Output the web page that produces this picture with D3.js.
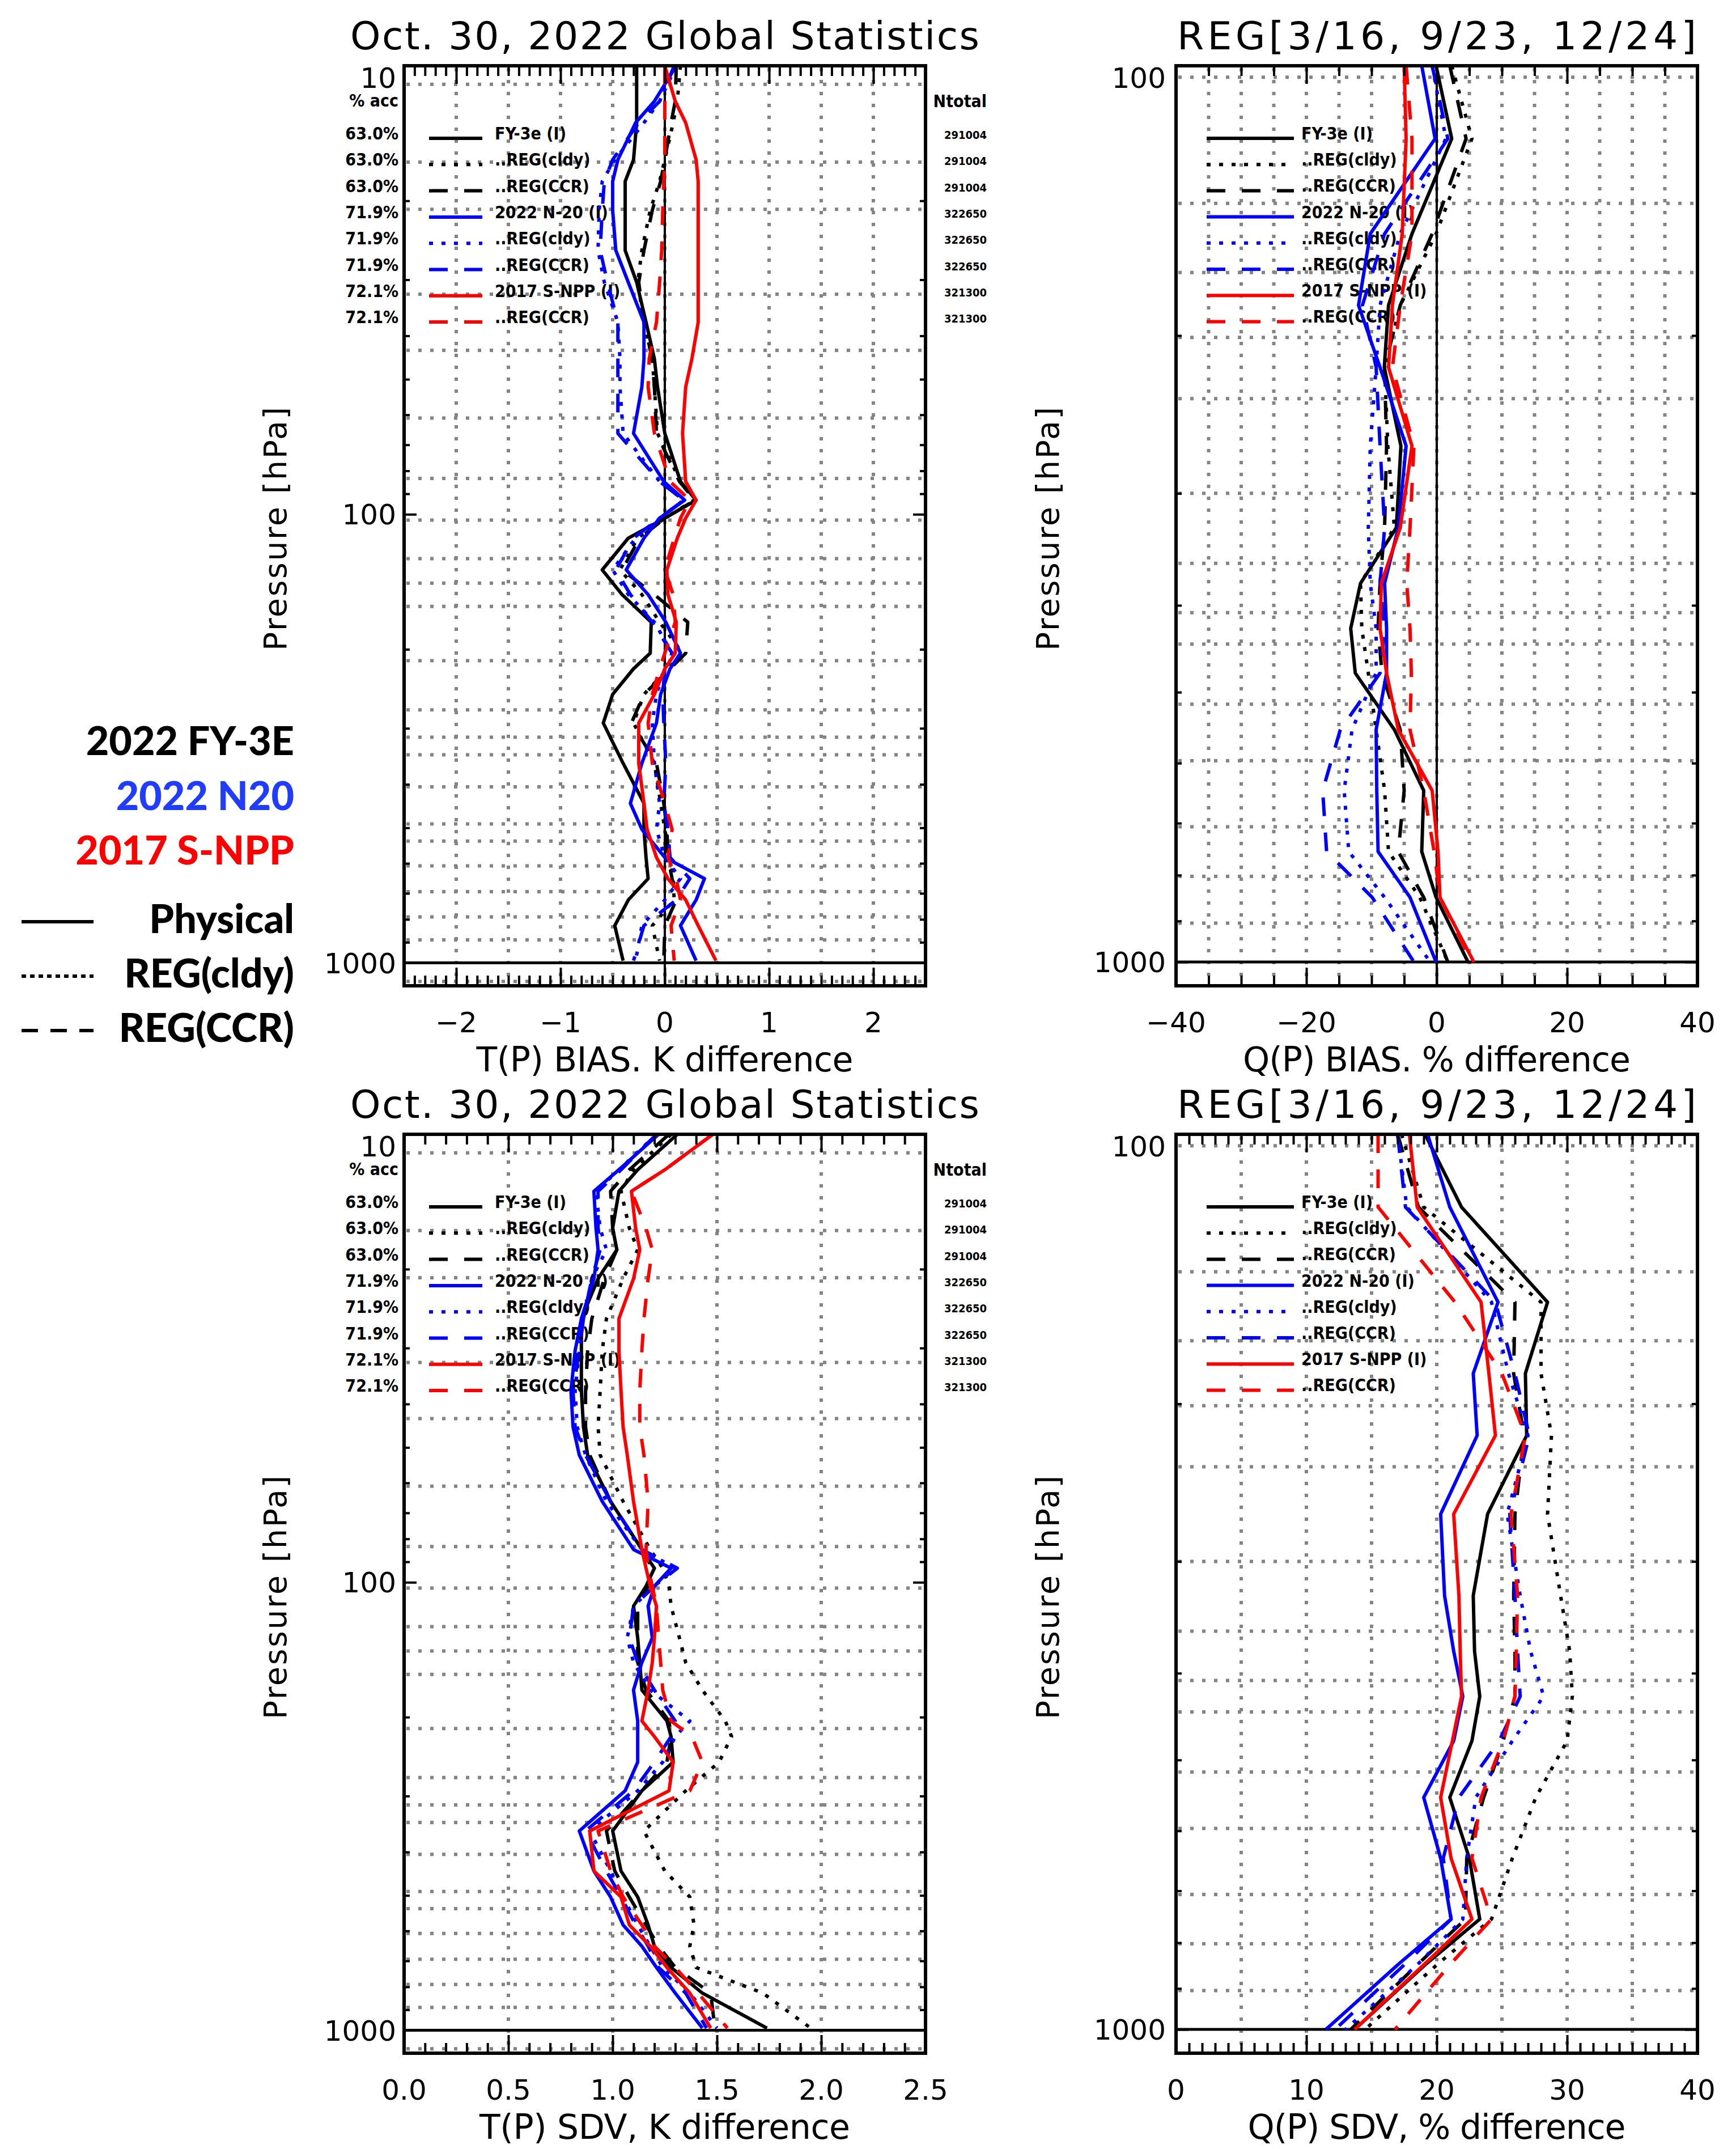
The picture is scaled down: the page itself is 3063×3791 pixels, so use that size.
<!DOCTYPE html>
<html>
<head>
<meta charset="utf-8">
<script src="https://cdn.jsdelivr.net/npm/d3@7"></script>
<style>
  body { margin: 0; background: #fff; }
  svg text { font-family: "DejaVu Sans", sans-serif; fill: #000; }
</style>
</head>
<body>
<svg id="chart" width="3063" height="3791"></svg>
<script>
// ---- data ----
var seriesLabels = ["FY-3e (I)", "..REG(cldy)", "..REG(CCR)", "2022 N-20 (I)", "..REG(cldy)", "..REG(CCR)", "2017 S-NPP (I)", "..REG(CCR)"];
var accLabels = ["63.0%", "63.0%", "63.0%", "71.9%", "71.9%", "71.9%", "72.1%", "72.1%"];
var nTotal = ["291004", "291004", "291004", "322650", "322650", "322650", "321300", "321300"];

// temperature layers (hPa) and dotted grid levels
var tLevels = [10, 12, 13.4, 16.2, 18.1, 21, 25.8, 30.4, 37.3, 45, 52, 66, 84.5, 93, 102, 113, 133, 151, 174, 204, 221, 252, 292, 359, 441, 504, 582, 649, 724, 826, 989];
var tGrid = [11.0, 16.4, 20.9, 32.3, 43.1, 61.0, 83.2, 103.0, 125.6, 142.4, 160.5, 212, 272.9, 314.1, 343.6, 405, 490, 535.2, 608, 694, 790, 889, 1100];

// T(P) bias, K  (rows: FY-3E phys, cldy, CCR, N20 phys, cldy, CCR, S-NPP phys, CCR)
var tBias = [
  [-0.27, -0.27, -0.27, -0.3, -0.38, -0.38, -0.38, -0.27, -0.18, -0.1, -0.07, 0.0, 0.15, 0.3, 0.0, -0.35, -0.6, -0.41, -0.13, -0.14, -0.3, -0.5, -0.59, -0.4, -0.2, -0.2, -0.18, -0.16, -0.35, -0.48, -0.4],
  [0.15, 0.12, 0.08, 0.0, -0.05, -0.14, -0.22, -0.26, -0.2, -0.12, -0.1, -0.07, 0.15, 0.28, 0.0, -0.26, -0.43, -0.22, -0.05, 0.17, 0.03, -0.2, -0.3, -0.1, -0.04, 0.0, 0.05, 0.08, 0.09, -0.12, -0.05],
  [0.11, 0.1, 0.06, 0.0, -0.04, -0.12, -0.2, -0.25, -0.2, -0.12, -0.1, -0.08, 0.14, 0.29, 0.0, -0.24, -0.41, -0.1, 0.22, 0.2, 0.05, -0.2, -0.32, -0.08, -0.01, 0.02, 0.03, 0.07, 0.11, 0.0, -0.01],
  [0.11, -0.1, -0.28, -0.45, -0.5, -0.5, -0.47, -0.35, -0.2, -0.2, -0.22, -0.3, -0.01, 0.19, -0.05, -0.2, -0.37, -0.16, 0.01, 0.15, 0.05, -0.04, -0.08, -0.22, -0.33, -0.22, 0.0, 0.38, 0.3, 0.15, 0.3],
  [0.11, -0.05, -0.2, -0.48, -0.6, -0.63, -0.64, -0.58, -0.45, -0.43, -0.43, -0.4, -0.05, 0.18, -0.05, -0.28, -0.5, -0.35, -0.1, 0.07, 0.0, -0.08, -0.12, -0.1, -0.05, -0.08, 0.0, 0.15, 0.0, -0.22, -0.28],
  [0.09, -0.05, -0.25, -0.5, -0.58, -0.6, -0.62, -0.55, -0.45, -0.45, -0.45, -0.45, -0.05, 0.18, -0.05, -0.3, -0.47, -0.33, -0.12, 0.07, 0.0, -0.02, -0.01, 0.01, -0.01, 0.03, 0.05, 0.24, 0.11, -0.2, -0.3],
  [0.0, 0.1, 0.2, 0.3, 0.32, 0.32, 0.32, 0.32, 0.32, 0.26, 0.2, 0.17, 0.2, 0.3, 0.2, 0.12, 0.02, 0.03, 0.11, 0.1, 0.0, -0.1, -0.25, -0.25, -0.2, -0.17, -0.08, 0.03, 0.2, 0.32, 0.49],
  [0.0, 0.0, 0.0, 0.0, -0.01, -0.02, -0.03, -0.05, -0.08, -0.15, -0.16, -0.1, 0.05, 0.24, 0.15, 0.09, 0.0, 0.08, 0.1, 0.0, -0.05, -0.12, -0.16, -0.12, 0.0, 0.07, 0.03, 0.11, 0.15, 0.06, 0.09]
];

// T(P) SDV, K
var tSdv = [
  [1.31, 1.12, 1.03, 1.0, 1.02, 0.93, 0.85, 0.85, 0.85, 0.86, 0.88, 0.99, 1.14, 1.2, 1.16, 1.1, 1.12, 1.13, 1.14, 1.26, 1.28, 1.29, 1.14, 1.0, 1.04, 1.12, 1.17, 1.2, 1.28, 1.43, 1.74],
  [1.28, 1.1, 1.04, 1.08, 1.12, 1.05, 0.97, 0.95, 0.94, 0.93, 0.94, 1.05, 1.18, 1.24, 1.27, 1.28, 1.32, 1.35, 1.43, 1.54, 1.57, 1.51, 1.35, 1.15, 1.25, 1.37, 1.39, 1.37, 1.4, 1.72, 1.95],
  [1.27, 1.08, 0.99, 1.0, 1.02, 0.96, 0.9, 0.88, 0.87, 0.87, 0.89, 0.99, 1.14, 1.19, 1.17, 1.12, 1.12, 1.12, 1.16, 1.27, 1.28, 1.26, 1.14, 0.97, 1.01, 1.08, 1.16, 1.22, 1.3, 1.47, 1.49],
  [1.22, 1.03, 0.91, 0.92, 0.93, 0.91, 0.85, 0.82, 0.8, 0.81, 0.84, 0.95, 1.1, 1.28, 1.2, 1.17, 1.19, 1.14, 1.1, 1.12, 1.12, 1.12, 1.06, 0.84, 0.91, 0.99, 1.05, 1.14, 1.21, 1.3, 1.43],
  [1.21, 1.03, 0.92, 0.94, 0.97, 0.9, 0.86, 0.84, 0.82, 0.83, 0.87, 0.97, 1.14, 1.3, 1.2, 1.1, 1.07, 1.1, 1.18, 1.37, 1.3, 1.24, 1.12, 0.89, 0.99, 1.05, 1.12, 1.18, 1.24, 1.37, 1.5],
  [1.21, 1.04, 0.93, 0.93, 0.94, 0.9, 0.86, 0.84, 0.81, 0.82, 0.87, 0.99, 1.14, 1.31, 1.2, 1.1, 1.08, 1.12, 1.2, 1.3, 1.28, 1.2, 1.1, 0.87, 0.97, 1.04, 1.11, 1.17, 1.22, 1.35, 1.45],
  [1.48, 1.25, 1.09, 1.11, 1.13, 1.1, 1.03, 1.03, 1.04, 1.05, 1.07, 1.1, 1.14, 1.16, 1.18, 1.21, 1.2, 1.19, 1.17, 1.14, 1.2, 1.29, 1.27, 0.89, 0.91, 1.04, 1.08, 1.18, 1.26, 1.37, 1.47],
  [1.48, 1.25, 1.09, 1.16, 1.19, 1.17, 1.15, 1.14, 1.13, 1.13, 1.15, 1.17, 1.16, 1.17, 1.19, 1.21, 1.22, 1.23, 1.24, 1.28, 1.38, 1.43, 1.37, 0.93, 0.99, 1.05, 1.14, 1.2, 1.3, 1.41, 1.55]
];

// water vapour layers (hPa) and dotted grid levels
var qLevels = [100, 120.6, 154, 185, 217, 265.6, 327.6, 378, 424.5, 476, 550.6, 643.8, 753, 847, 1000];
var qGrid = [103, 142.4, 170.1, 201, 235.2, 300, 359, 407.5, 441.9, 515.7, 596.3, 706.6, 802.4, 904.9];

// Q(P) bias, %
var qBias = [
  [-0.1, 2.3, -3.8, -7.4, -8.05, -5.5, -6.2, -11.7, -13.2, -12.5, -6.5, -2.0, -2.3, -0.1, 4.8],
  [2.3, 5.4, -0.1, -5.6, -8.0, -7.5, -6.5, -11.7, -11.5, -10.5, -9.3, -8.0, -7.4, -2.6, 1.7],
  [2.0, 4.5, -0.7, -5.6, -8.0, -7.7, -8.0, -8.7, -9.0, -8.4, -5.6, -5.0, -5.9, -2.0, 1.7],
  [-2.3, -0.25, -10.2, -12.0, -8.7, -4.7, -5.9, -8.0, -7.7, -7.7, -9.3, -9.2, -9.0, -4.1, -0.1],
  [-0.7, 1.4, -5.6, -8.7, -9.3, -10.2, -10.5, -10.2, -9.3, -9.3, -13.0, -14.2, -13.5, -8.0, -1.0],
  [-0.7, 1.7, -8.0, -11.4, -9.3, -8.7, -8.0, -8.7, -8.0, -8.7, -14.8, -17.5, -16.9, -9.9, -3.5],
  [-5.0, -4.7, -5.3, -6.8, -7.4, -3.8, -5.6, -8.5, -8.7, -7.7, -5.9, -0.7, 0.2, 0.5, 5.7],
  [-4.7, -3.8, -3.8, -5.6, -6.8, -3.5, -4.1, -4.6, -4.1, -3.9, -4.1, -2.0, -0.4, 0.5, 5.4]
];

// Q(P) SDV, %
var qSdv = [
  [19.1, 21.9, 28.5, 26.8, 26.9, 23.9, 22.8, 22.9, 23.3, 22.7, 21.0, 22.5, 23.3, 19.1, 13.7],
  [17.3, 19.0, 28.0, 28.0, 28.8, 28.5, 29.5, 30.2, 30.4, 30.0, 27.6, 25.8, 24.2, 20.0, 14.5],
  [17.0, 18.6, 26.0, 25.9, 26.7, 26.0, 25.9, 26.0, 26.0, 25.1, 23.6, 22.3, 22.2, 18.5, 13.4],
  [19.3, 21.0, 24.7, 22.8, 23.1, 20.3, 20.6, 21.3, 22.0, 21.3, 19.0, 20.3, 21.1, 17.0, 11.5],
  [17.0, 17.7, 24.2, 25.5, 27.0, 25.4, 26.4, 27.2, 28.2, 25.8, 23.0, 22.3, 22.0, 18.5, 13.0],
  [17.0, 17.6, 24.5, 26.0, 27.1, 25.6, 26.0, 26.2, 26.4, 24.8, 21.7, 20.5, 21.1, 17.5, 12.2],
  [17.9, 18.5, 23.4, 24.0, 24.5, 21.3, 21.7, 21.8, 21.9, 21.2, 20.3, 21.1, 22.7, 19.0, 13.7],
  [15.5, 15.5, 21.4, 25.0, 26.8, 25.7, 26.2, 26.1, 26.0, 25.1, 23.4, 22.7, 24.2, 21.0, 16.8]
];

// ---- styles ----
var colors = ["#000", "#000", "#000", "#0000ff", "#0000ff", "#0000ff", "#ff0000", "#ff0000"];
var dashes = [null, "7 15", "33 29", null, "7 15", "33 29", null, "33 29"];
var GRID = "#848484";

var svg = d3.select("#chart");
svg.append("rect").attr("width", 3063).attr("height", 3791).attr("fill", "#fff");

var titleT = "Oct. 30, 2022 Global Statistics";
var titleQ = "REG[3/16, 9/23, 12/24]";

var panels = [
  { title: titleT, tlen: 1110, xlab: "T(P) BIAS. K difference", xlen: 665, x0: 713, x1: 1633, y0: 116, y1: 1739,
    xdom: [-2.5, 2.5], ydom: [10, 1125], levels: tLevels, data: tBias, hGrid: tGrid,
    vGrid: [-2, -1.5, -1, -0.5, 0, 0.5, 1, 1.5, 2], minor: d3.range(-25, 26).map(function(i) { return i / 10; }),
    major: [-2, -1, 0, 1, 2], fmt: d3.format("d"), zero: true, acc: true, yMinor: [20, 30, 40, 50, 60, 70, 80, 90, 200, 300, 400, 500, 600, 700, 800, 900], yMajor: [100, 1000], yLab: [10, 100, 1000] },
  { title: titleQ, tlen: 916, xlab: "Q(P) BIAS. % difference", xlen: 684, x0: 2075, x1: 2995, y0: 116, y1: 1739,
    xdom: [-40, 40], ydom: [100, 1063], levels: qLevels, data: qBias, hGrid: qGrid,
    vGrid: d3.range(-35, 36, 5), minor: d3.range(-40, 41, 5), major: [-40, -20, 0, 20, 40], fmt: d3.format("d"),
    zero: true, acc: false, yMinor: [200, 300, 400, 500, 600, 700, 800, 900], yMajor: [1000], yLab: [100, 1000] },
  { title: titleT, tlen: 1110, xlab: "T(P) SDV, K difference", xlen: 654, x0: 713, x1: 1633, y0: 2001, y1: 3622,
    xdom: [0, 2.5], ydom: [10, 1125], levels: tLevels, data: tSdv, hGrid: tGrid,
    vGrid: [0.5, 1, 1.5, 2], minor: d3.range(0, 26).map(function(i) { return i / 10; }),
    major: [0, 0.5, 1, 1.5, 2, 2.5], fmt: d3.format(".1f"), zero: false, acc: true, yMinor: [20, 30, 40, 50, 60, 70, 80, 90, 200, 300, 400, 500, 600, 700, 800, 900], yMajor: [100, 1000], yLab: [10, 100, 1000] },
  { title: titleQ, tlen: 916, xlab: "Q(P) SDV, % difference", xlen: 667, x0: 2075, x1: 2995, y0: 2001, y1: 3622,
    xdom: [0, 40], ydom: [100, 1063], levels: qLevels, data: qSdv, hGrid: qGrid,
    vGrid: d3.range(5, 36, 5), minor: d3.range(0, 41), major: [0, 10, 20, 30, 40], fmt: d3.format("d"),
    zero: false, acc: false, yMinor: [200, 300, 400, 500, 600, 700, 800, 900], yMajor: [1000], yLab: [100, 1000] }
];

panels.forEach(function(cfg, pi) {
  var g = svg.append("g");
  var x = d3.scaleLinear().domain(cfg.xdom).range([cfg.x0, cfg.x1]);
  var y = d3.scaleLog().domain(cfg.ydom).range([cfg.y0, cfg.y1]);

  // dotted grid
  g.append("g").selectAll("line").data(cfg.hGrid).join("line")
    .attr("x1", cfg.x0 + 4).attr("x2", cfg.x1).attr("y1", function(d) { return y(d); }).attr("y2", function(d) { return y(d); })
    .attr("stroke", GRID).attr("stroke-width", 6).attr("stroke-dasharray", "6 15");
  g.append("g").selectAll("line").data(cfg.vGrid).join("line")
    .attr("x1", function(d) { return x(d); }).attr("x2", function(d) { return x(d); })
    .attr("y1", cfg.y0 + 4).attr("y2", cfg.y1)
    .attr("stroke", GRID).attr("stroke-width", 6).attr("stroke-dasharray", "6 15");

  // 1000 hPa line and zero line
  g.append("line").attr("x1", cfg.x0).attr("x2", cfg.x1).attr("y1", y(1000)).attr("y2", y(1000))
    .attr("stroke", "#000").attr("stroke-width", 5);
  if (cfg.zero) {
    g.append("line").attr("x1", x(0)).attr("x2", x(0)).attr("y1", cfg.y0).attr("y2", cfg.y1)
      .attr("stroke", "#000").attr("stroke-width", 4);
  }

  // legend inside the panel
  var isLeft = cfg.acc;
  var lx0 = isLeft ? 757 : 2129, lx1 = isLeft ? 851 : 2283, tx = isLeft ? 873 : 2296;
  var step = isLeft ? 46.3 : 46.2;
  var leg = g.append("g");
  seriesLabels.forEach(function(lab, i) {
    var by = cfg.y0 + 130 + i * step;
    leg.append("line").attr("x1", lx0).attr("x2", lx1).attr("y1", by - 2).attr("y2", by - 2)
      .attr("stroke", colors[i]).attr("stroke-width", 6).attr("stroke-dasharray", dashes[i]);
    leg.append("text").attr("x", tx).attr("y", by).text(lab)
      .style("font-family", "'DejaVu Sans Condensed', 'DejaVu Sans', sans-serif")
      .style("font-weight", "bold").style("font-size", "30px");
    if (isLeft) {
      leg.append("text").attr("x", 703).attr("y", by).attr("text-anchor", "end").text(accLabels[i])
        .style("font-family", "'DejaVu Sans Condensed', 'DejaVu Sans', sans-serif")
        .style("font-weight", "bold").style("font-size", "30px");
      leg.append("text").attr("x", 1741).attr("y", by - 1).attr("text-anchor", "end").text(nTotal[i])
        .style("font-family", "'DejaVu Sans Condensed', 'DejaVu Sans', sans-serif")
        .style("font-weight", "bold").style("font-size", "20px");
    }
  });
  if (isLeft) {
    leg.append("text").attr("x", 703).attr("y", cfg.y0 + 72).attr("text-anchor", "end").text("% acc")
      .style("font-weight", "bold").style("font-size", "30px")
      .style("font-family", "'DejaVu Sans Condensed', 'DejaVu Sans', sans-serif");
    leg.append("text").attr("x", 1741).attr("y", cfg.y0 + 73).attr("text-anchor", "end").text("Ntotal")
      .style("font-weight", "bold").style("font-size", "30px")
      .style("font-family", "'DejaVu Sans Condensed', 'DejaVu Sans', sans-serif");
  }

  // profiles
  var clipId = "clip" + pi;
  svg.append("clipPath").attr("id", clipId).append("rect")
    .attr("x", cfg.x0).attr("y", cfg.y0).attr("width", cfg.x1 - cfg.x0).attr("height", cfg.y1 - cfg.y0);
  var line = d3.line().x(function(d) { return x(d.v); }).y(function(d) { return y(d.p); });
  var curves = g.append("g").attr("clip-path", "url(#" + clipId + ")");
  cfg.data.forEach(function(row, i) {
    var pts = row.map(function(v, k) { return { p: cfg.levels[k], v: v }; });
    curves.append("path").datum(pts).attr("d", line)
      .attr("fill", "none").attr("stroke", colors[i]).attr("stroke-width", 6)
      .attr("stroke-linejoin", "round").attr("stroke-dasharray", dashes[i]);
  });

  // ticks via d3 axes
  function ticks(gen, vals, len, tr) {
    g.append("g").attr("transform", tr)
      .call(gen.tickValues(vals).tickSize(-len).tickFormat(""))
      .call(function(s) {
        s.select(".domain").remove();
        s.selectAll("line").attr("stroke", "#000").attr("stroke-width", 4);
      });
  }
  var majorSet = cfg.major.map(function(v) { return +v.toFixed(3); });
  var minorOnly = cfg.minor.filter(function(v) { return majorSet.indexOf(+v.toFixed(3)) < 0; });
  ticks(d3.axisBottom(x), minorOnly, 18, "translate(0," + cfg.y1 + ")");
  ticks(d3.axisBottom(x), cfg.major, 32, "translate(0," + cfg.y1 + ")");
  ticks(d3.axisTop(x), minorOnly, 18, "translate(0," + cfg.y0 + ")");
  ticks(d3.axisTop(x), cfg.major, 32, "translate(0," + cfg.y0 + ")");
  ticks(d3.axisLeft(y), cfg.yMinor, 10, "translate(" + cfg.x0 + ",0)");
  ticks(d3.axisLeft(y), cfg.yMajor, 22, "translate(" + cfg.x0 + ",0)");
  ticks(d3.axisRight(y), cfg.yMinor, 10, "translate(" + cfg.x1 + ",0)");
  ticks(d3.axisRight(y), cfg.yMajor, 22, "translate(" + cfg.x1 + ",0)");

  // frame
  g.append("rect").attr("x", cfg.x0).attr("y", cfg.y0).attr("width", cfg.x1 - cfg.x0).attr("height", cfg.y1 - cfg.y0)
    .attr("fill", "none").attr("stroke", "#000").attr("stroke-width", 6);

  // tick labels
  g.append("g").selectAll("text").data(cfg.major).join("text")
    .attr("x", function(d) { return x(d); }).attr("y", cfg.y1 + 82)
    .attr("text-anchor", "middle").style("font-size", "50px").text(cfg.fmt);
  g.append("g").selectAll("text").data(cfg.yLab).join("text")
    .attr("x", cfg.x0 - (isLeft ? 14 : 18))
    .attr("y", function(d, i) { return i === 0 ? cfg.y0 + 39 : y(d) + 18; })
    .attr("text-anchor", "end").style("font-size", "50px").text(function(d) { return d; });

  // titles
  var cx = (cfg.x0 + cfg.x1) / 2;
  g.append("text").attr("x", cx).attr("y", cfg.y0 - 29).attr("text-anchor", "middle")
    .attr("textLength", cfg.tlen).attr("lengthAdjust", "spacing")
    .style("font-size", "68px").text(cfg.title);
  g.append("text").attr("x", cx).attr("y", cfg.y1 + 151).attr("text-anchor", "middle")
    .attr("textLength", cfg.xlen).attr("lengthAdjust", "spacing")
    .style("font-size", "60px").text(cfg.xlab);
  var py = cfg.y0 + 817, px = isLeft ? 505 : 1868;
  g.append("text").attr("transform", "translate(" + px + "," + py + ") rotate(-90)")
    .attr("text-anchor", "middle").attr("textLength", 430).attr("lengthAdjust", "spacing")
    .style("font-size", "55px").text("Pressure [hPa]");
});

// ---- outer legend ----
var outerSat = ["2022 FY-3E", "2022 N20", "2017 S-NPP"];
var outerSatColor = ["#000", "#1f3cff", "#ff0000"];
var outerTypes = ["Physical", "REG(cldy)", "REG(CCR)"];
var outerDash = [null, "8 7", "29 22"];
var ol = svg.append("g");
outerSat.forEach(function(s, i) {
  ol.append("text").attr("x", 519).attr("y", 1332 + i * 96.5).attr("text-anchor", "end")
    .style("font-family", "Lato, 'Open Sans', sans-serif").style("font-weight", "900").style("font-size", "70px")
    .style("fill", outerSatColor[i]).text(s);
});
outerTypes.forEach(function(s, i) {
  var by = 1646 + i * 96;
  ol.append("text").attr("x", 519).attr("y", by).attr("text-anchor", "end")
    .style("font-family", "Lato, 'Open Sans', sans-serif").style("font-weight", "900").style("font-size", "70px").text(s);
  ol.append("line").attr("x1", 38).attr("x2", 165).attr("y1", by - 20).attr("y2", by - 20)
    .attr("stroke", "#000").attr("stroke-width", 6).attr("stroke-dasharray", outerDash[i]);
});
</script>
</body>
</html>
